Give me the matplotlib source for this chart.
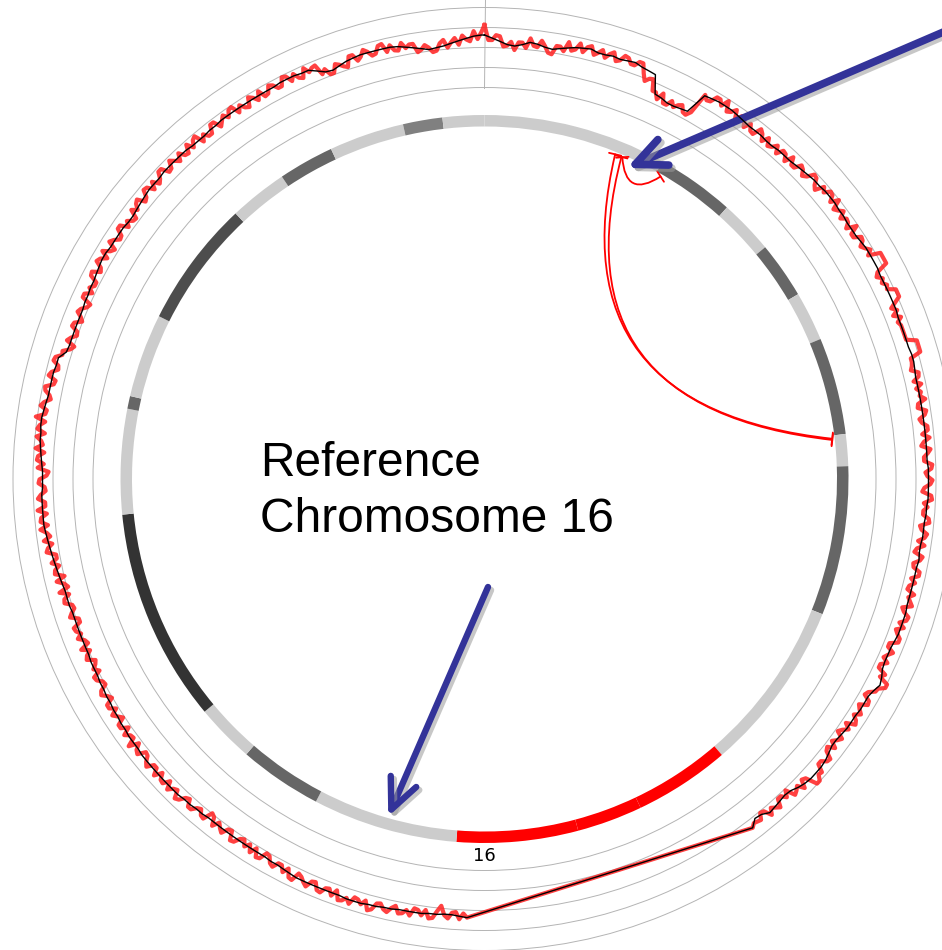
import numpy as np
import matplotlib.pyplot as plt
import matplotlib.patheffects as pe
from matplotlib.path import Path
from matplotlib.patches import FancyArrowPatch

CHR_LEN = 90.35   # chr16 length (Mb)
RAW_BIN = 0.125   # raw coverage bin size (Mb)
SEG_BIN = 0.25    # smoothed coverage bin size (Mb)

# cytobands of chr16 (Mb)
band_start = [0.00, 7.35, 10.48, 12.66, 14.93, 16.91, 20.80, 22.08, 28.06, 34.96, 38.80, 41.43,
              46.29, 52.10, 55.43, 57.79, 66.35, 70.56, 71.07, 74.43, 79.52, 81.86, 84.09, 87.10, 88.68]
band_stain = ['gneg', 'gpos50', 'gneg', 'gpos50', 'gneg', 'gpos50', 'gneg', 'gpos50', 'gneg',
              'acen', 'acen', 'gvar', 'gneg', 'gpos50', 'gneg', 'gpos100', 'gneg', 'gpos50', 'gneg',
              'gpos75', 'gneg', 'gpos50', 'gneg', 'gpos25', 'gneg']
stain_color = {'gneg': '#cccccc', 'gpos25': '#808080', 'gpos50': '#666666', 'gpos75': '#4d4d4d',
               'gpos100': '#333333', 'acen': '#ff0000', 'gvar': '#ff0000'}

# coverage track (radius units); p arm from 0 Mb, q arm from 45.75 Mb
p_start, q_start = 0.0, 45.75
p_raw = [454, 439, 439, 444, 443, 433, 434, 438, 430, 438,
         438, 433, 443, 436, 435, 442, 437, 431, 430, 439,
         439, 435, 445, 437, 439, 446, 438, 444, 446, 438,
         441, 445, 438, 443, 446, 438, 440, 446, 445, 440,
         440, 445, 445, 436, 429, 433, 434, 423, 423, 417,
         425, 416, 416, 422, 417, 421, 423, 417, 416, 421,
         443, 439, 440, 447, 447, 442, 450, 440, 442, 447,
         438, 445, 444, 437, 444, 438, 437, 446, 443, 437,
         444, 437, 439, 444, 437, 444, 443, 437, 446, 439,
         439, 446, 444, 439, 442, 449, 448, 442, 439, 448,
         444, 450, 449, 443, 451, 441, 444, 448, 441, 446,
         445, 440, 450, 441, 441, 448, 447, 442, 445, 449,
         444, 456, 456, 456, 456, 444, 441, 446, 443, 447,
         445, 453, 453, 453, 447, 441, 446, 440, 447, 442,
         444, 444, 444, 444, 444, 454, 454, 454, 454, 443,
         443, 442, 440, 447, 446, 440, 447, 441, 445, 443,
         448, 440, 439, 447, 445, 439, 441, 446, 446, 440,
         447, 441, 438, 447, 444, 440, 440, 448, 447, 441,
         443, 448, 446, 440, 438, 447, 448, 440, 444, 440,
         440, 446, 447, 438, 440, 446, 444, 438, 445, 438,
         436, 445, 443, 437, 438, 445, 445, 438, 443, 438,
         437, 445, 440, 443, 446, 437, 440, 446, 445, 439,
         445, 438, 441, 445, 445, 437, 437, 444, 440, 437,
         443, 437, 437, 446, 442, 452, 452, 446, 445, 439,
         437, 444, 445, 437, 440, 444, 438, 443, 445, 436,
         442, 437, 434, 442, 439, 435, 442, 435, 437, 445,
         444, 439, 439, 447, 446, 451, 451, 439, 437, 445,
         438, 441, 443, 433, 439, 434, 434, 442, 439, 436,
         442, 434, 433, 439, 438, 437, 440]
p_seg = [444, 441, 438, 435, 434, 436, 439, 438, 436, 435,
         437, 439, 441, 442, 443, 441, 441, 442, 441, 442,
         443, 441, 440, 439, 421, 420, 418, 418, 419, 420,
         442, 443, 444, 444, 444, 443, 442, 441, 441, 441,
         440, 440, 441, 441, 441, 442, 443, 444, 445, 445,
         446, 446, 446, 445, 445, 444, 444, 444, 445, 446,
         446, 446, 446, 445, 445, 445, 445, 445, 445, 444,
         444, 444, 444, 444, 445, 445, 444, 443, 443, 443,
         443, 443, 443, 443, 443, 443, 443, 443, 443, 444,
         444, 444, 444, 444, 443, 443, 442, 442, 442, 441,
         441, 442, 441, 441, 441, 441, 441, 441, 442, 442,
         442, 442, 441, 440, 440, 440, 441, 444, 446, 443,
         441, 441, 441, 440, 440, 440, 439, 438, 438, 440,
         442, 443, 443, 443, 442, 440, 437, 436, 437, 438,
         439, 435, 434, 440]
q_raw = [439, 435, 441, 434, 435, 441, 438, 429, 435, 442,
         443, 435, 441, 436, 435, 443, 438, 442, 443, 436,
         439, 444, 442, 437, 438, 445, 447, 438, 443, 439,
         438, 446, 441, 445, 446, 437, 444, 438, 439, 445,
         444, 437, 438, 445, 442, 438, 436, 445, 444, 436,
         442, 436, 436, 442, 440, 434, 433, 441, 442, 434,
         441, 434, 439, 433, 435, 441, 442, 433, 434, 441,
         438, 434, 441, 433, 431, 441, 440, 435, 437, 442,
         442, 435, 437, 443, 445, 437, 439, 444, 436, 443,
         442, 436, 444, 437, 437, 444, 441, 436, 435, 443,
         441, 435, 445, 436, 437, 442, 434, 441, 441, 433,
         437, 441, 434, 440, 440, 432, 435, 440, 438, 431,
         432, 437, 438, 430, 435, 431, 429, 437, 435, 430,
         438, 429, 431, 437, 432, 436, 437, 429, 429, 437,
         434, 430, 431, 438, 437, 431, 440, 430, 433, 440,
         431, 440, 439, 434, 441, 435, 435, 444, 442, 437,
         445, 438, 441, 447, 439, 446, 445, 439, 448, 440,
         440, 447, 444, 439, 440, 446, 445, 438, 436, 447,
         441, 448, 447, 441, 450, 443, 445, 450, 442, 450,
         448, 443, 453, 444, 443, 450, 447, 441, 443, 448,
         449, 441, 440, 448, 446, 440, 441, 447, 446, 440,
         441, 434, 431, 440, 437, 432, 433, 440, 439, 432,
         435, 440, 438, 433, 431, 441, 441, 434, 439, 435,
         435, 443, 444, 436, 438, 445, 443, 437, 445, 438,
         435, 444, 441, 436, 437, 444, 444, 436, 441, 436,
         435, 444, 439, 444, 446, 438, 440, 447, 446, 439,
         446, 439, 442, 448, 448, 440, 441, 448, 444, 440,
         447, 441, 440, 448, 441, 447, 449, 439, 445, 440,
         440, 448, 448, 440, 444, 448, 443, 449, 450, 441,
         447, 442, 440, 449, 446, 441, 449, 441, 442, 449,
         447, 442, 442, 450, 449, 442, 448, 442, 440, 449,
         443, 446, 447, 436, 440, 433, 433, 441, 439, 436,
         434, 444, 444, 437, 440, 446, 443, 438, 439, 446,
         447, 438, 444, 438, 437, 444, 438, 441, 441, 432,
         434, 438, 435, 430, 431, 438, 441, 433, 438, 442,
         435, 444, 440, 438, 448, 440, 447]
q_seg = [439, 438, 437, 437, 438, 438, 439, 439, 439, 439,
         440, 440, 441, 441, 442, 442, 442, 441, 441, 441,
         441, 441, 441, 441, 440, 439, 438, 438, 437, 437,
         437, 437, 437, 437, 437, 437, 437, 437, 438, 438,
         439, 439, 440, 440, 440, 440, 440, 440, 440, 440,
         439, 439, 439, 438, 438, 437, 437, 436, 436, 435,
         435, 434, 434, 434, 433, 433, 433, 433, 433, 433,
         433, 434, 434, 434, 435, 436, 437, 438, 439, 440,
         441, 442, 443, 443, 443, 443, 443, 442, 442, 442,
         443, 444, 445, 446, 446, 447, 447, 446, 445, 444,
         444, 444, 444, 443, 443, 437, 436, 436, 436, 436,
         436, 436, 437, 437, 438, 438, 439, 440, 441, 441,
         440, 440, 440, 440, 439, 439, 440, 441, 442, 443,
         443, 443, 444, 444, 444, 444, 444, 443, 443, 443,
         444, 444, 445, 445, 445, 445, 445, 445, 445, 445,
         445, 446, 446, 446, 445, 445, 441, 437, 436, 438,
         440, 441, 442, 442, 442, 442, 442, 441, 439, 437,
         435, 433, 434, 435, 437, 439, 441, 443, 444]

# structural variant links: ends (Mb) and bezier control point (Mb, radius)
link_a = [5.50, 5.78, 5.82]
link_b = [20.93, 20.98, 7.58]
link_ctrl_mb = [11.3, 11.3, 6.70]
link_ctrl_r = [100, 100, 313]

# call-out arrows: tip on chr16 (Mb, radius), tail in figure pixels
arrow_tip_mb = [6.17, 49.17]
arrow_tip_r = [342, 351]
arrow_tail_px = [(962, 926), (488, 363)]
arrow_lw = [5.5, 4.6]

grid_r = [391.5, 411.5, 431.5, 451.5, 471.5]


def mb2rad(mb):
    return np.asarray(mb) / CHR_LEN * 2 * np.pi


W, H = 942, 950
CX, CY, R_AX = 484.5, 479.0, 482.0   # circle centre / outer radius in pixels

fig = plt.figure(figsize=(W / 100, H / 100), dpi=100)
ax = fig.add_axes([(CX - R_AX) / W, (H - CY - R_AX) / H, 2 * R_AX / W, 2 * R_AX / H],
                  projection='polar')
ax.set_theta_zero_location('N')
ax.set_theta_direction(-1)
ax.set_ylim(0, R_AX)
ax.spines['polar'].set_visible(False)
ax.set_xticks([])
ax.set_yticks(grid_r)
ax.set_yticklabels([])
ax.tick_params(length=0)
ax.yaxis.grid(True, color='#b4b4b4', lw=0.7)
ax.axvline(0, ymin=grid_r[0] / R_AX, ymax=1, color='#b4b4b4', lw=0.7)

# ideogram
band_end = band_start[1:] + [CHR_LEN]
ax.bar(mb2rad(band_start), 11.5, width=mb2rad(np.subtract(band_end, band_start)), bottom=352.5,
       align='edge', color=[stain_color[s] for s in band_stain], linewidth=0)
ax.text(np.pi, 377, '16', ha='center', va='center', fontsize=13, family='DejaVu Sans')

# coverage track, closed over the chromosome end
raw_pos = np.concatenate([p_start + RAW_BIN * np.arange(len(p_raw)),
                          q_start + RAW_BIN * np.arange(len(q_raw))])
seg_pos = np.concatenate([p_start + SEG_BIN * np.arange(len(p_seg)),
                          q_start + SEG_BIN * np.arange(len(q_seg))])
raw = p_raw + q_raw
seg = p_seg + q_seg
ax.plot(np.append(mb2rad(raw_pos), 2 * np.pi), raw + raw[:1], color='#ff2020', lw=3.0, alpha=0.85,
        solid_joinstyle='round', zorder=3)
ax.plot(np.append(mb2rad(seg_pos), 2 * np.pi), seg + seg[:1], color='black', lw=1.0, zorder=4)

# links
for a, b, cm, cr in zip(link_a, link_b, link_ctrl_mb, link_ctrl_r):
    path = Path([(mb2rad(a), 350), (mb2rad(cm), cr), (mb2rad(b), 350)],
                [Path.MOVETO, Path.CURVE3, Path.CURVE3])
    ax.add_patch(FancyArrowPatch(path=path, arrowstyle='|-|,widthA=0.45,widthB=0.45',
                                 color='red', lw=1.3, mutation_scale=10, transform=ax.transData))

# call-outs
shadow = [pe.SimpleLineShadow(offset=(2.2, -2.2), shadow_color='#9a9a9a', alpha=0.55), pe.Normal()]
for m, r, tail, lw in zip(arrow_tip_mb, arrow_tip_r, arrow_tail_px, arrow_lw):
    ax.annotate('', xy=(mb2rad(m), r), xycoords='data', xytext=tail, textcoords='figure pixels',
                annotation_clip=False,
                arrowprops=dict(arrowstyle='->,head_length=2.2,head_width=1.0', lw=lw, color='#333399',
                                shrinkA=0, shrinkB=0, capstyle='round', joinstyle='round',
                                path_effects=shadow))

fig.text(260 / W, 1 - 476 / H, 'Reference', fontsize=34.5, family='Liberation Sans', va='baseline')
fig.text(260 / W, 1 - 532 / H, 'Chromosome 16', fontsize=34.5, family='Liberation Sans', va='baseline')

fig.savefig('out.png', dpi=100)
